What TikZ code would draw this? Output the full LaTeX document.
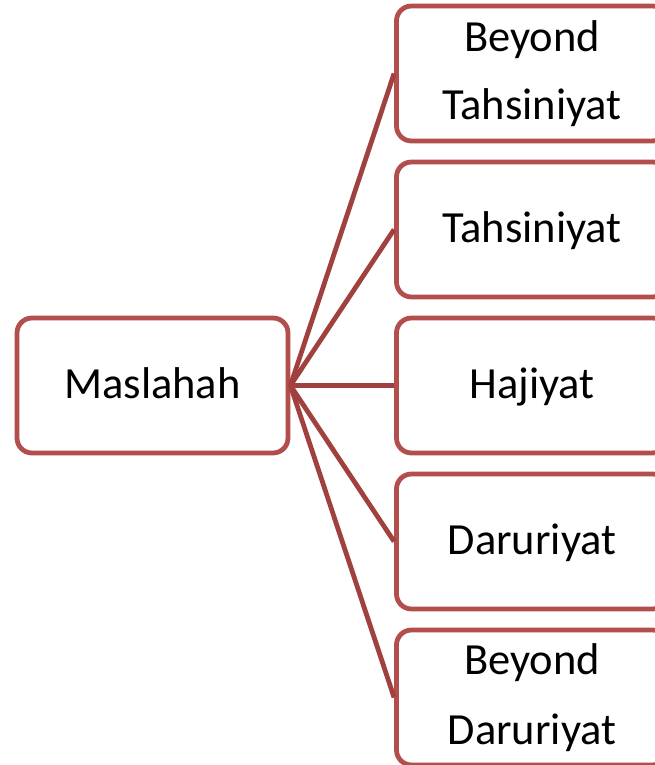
\documentclass[tikz,border=0pt]{standalone}
\usepackage{fontspec}
\setmainfont{Carlito}
\definecolor{boxred}{HTML}{B24E4C}
\definecolor{linkred}{HTML}{A0413F}
\begin{document}
\begin{tikzpicture}[x=1pt,y=1pt,
  box/.style={draw=boxred, line width=4.8pt, rounded corners=15pt, minimum width=271pt, minimum height=135pt, inner sep=0pt, fill=white},
  conn/.style={draw=linkred, line width=4.8pt},
  lbl/.style={anchor=base, font=\fontsize{44.5}{68}\selectfont, inner sep=0pt, text=black}]
\useasboundingbox (0,0) rectangle (655,765);
\clip (0,0) rectangle (655,765);
\node[box] (m) at (152.5,379.5) {};
\node[box] (b1) at (532,691.5) {};
\node[box] (b2) at (532,535.5) {};
\node[box] (b3) at (532,379.5) {};
\node[box] (b4) at (532,223.5) {};
\node[box] (b5) at (532,67.5) {};
\foreach \b in {b1,b2,b3,b4,b5} \draw[conn] (m.east) -- (\b.west);
\node[lbl] (tm) at (152.5,366) {Maslahah};
\node[lbl] (t1a) at (532,713) {Beyond};
\node[lbl] (t1b) at (532,645) {Tahsiniyat};
\node[lbl] (t2) at (532,522) {Tahsiniyat};
\node[lbl] (t3) at (532,366) {Hajiyat};
\node[lbl] (t4) at (532,210) {Daruriyat};
\node[lbl] (t5a) at (532,90) {Beyond};
\node[lbl] (t5b) at (532,20) {Daruriyat};
\end{tikzpicture}
\end{document}
